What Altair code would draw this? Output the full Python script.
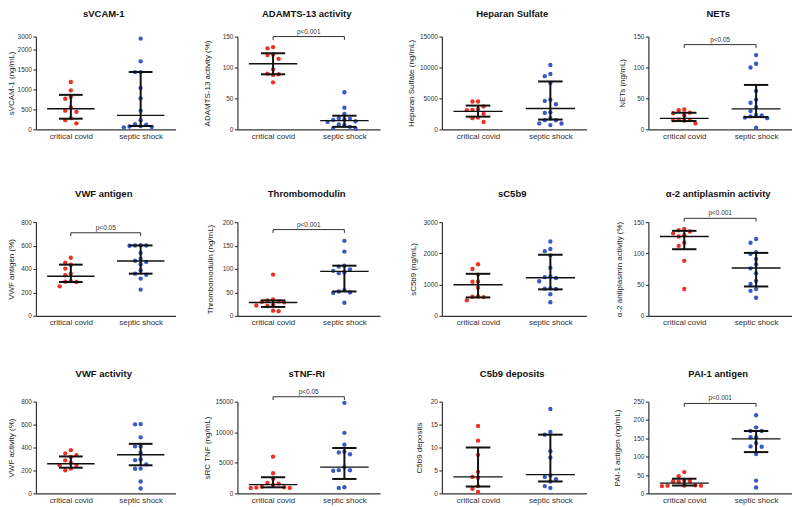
import altair as alt
import pandas as pd

GROUPS = ["critical covid", "septic shock"]
RED = "#EE3124"
BLUE = "#3A58C6"

TITLES = ["sVCAM-1", "ADAMTS-13 activity", "Heparan Sulfate", "NETs",
          "VWF antigen", "Thrombomodulin", "sC5b9", "\u03b1-2 antiplasmin activity",
          "VWF activity", "sTNF-RI", "C5b9 deposits", "PAI-1 antigen"]
YTITLES = ["sVCAM-1 (ng/mL)", "ADAMTS-13 activity (%)", "Heparan Sulfate (ng/mL)", "NETs (ng/mL)",
           "VWF antigen (%)", "Thrombomodulin (ng/mL)", "sC5b9 (ng/mL)", "\u03b1-2 antiplasmin activity (%)",
           "VWF activity (%)", "sRC TNF (ng/mL)", "C5b9 deposits", "PAI-1 actigen (ng/mL)"]

COVID = [
    [1190, 980, 820, 770, 560, 470, 440, 280, 230, 150],
    [133, 131, 121, 120, 114, 97, 90, 89, 88, 76],
    [4500, 4500, 3700, 3300, 3150, 3100, 2500, 1900, 1800, 1200],
    [32, 31, 27, 26, 22.5, 15.5, 15, 14.5, 14, 9.6],
    [496, 454, 437, 403, 360, 346, 296, 292, 289, 252],
    [88, 35, 33, 31, 30, 29, 23, 22, 21, 11, 10],
    [1650, 1500, 1320, 1100, 1090, 900, 620, 610, 600, 500],
    [139, 137, 135, 132, 129, 127, 117, 112, 88, 43],
    [377, 348, 334, 317, 288, 268, 247, 245, 216, 201],
    [6000, 3300, 2400, 1700, 1600, 1400, 1100, 1000, 950, 900, 880],
    [14.7, 11.5, 8.4, 4.7, 3.6, 3.4, 1.6, 1.0, 0.3],
    [58, 47, 36, 34, 33, 32, 22, 21.5, 21, 21, 20],
]
SEPTIC = [
    [2850, 1710, 1440, 1440, 1040, 780, 470, 230, 130, 120, 80, 70, 60, 50],
    [60, 35, 25, 18, 17, 16, 15, 13, 12, 8, 7, 4, 2, 1],
    [10400, 8950, 8600, 7500, 4800, 4600, 4050, 2750, 2650, 1750, 1480, 1460, 950, 940, 680],
    [120, 106, 100, 62, 48, 43, 36, 29.5, 23, 22.5, 21, 19, 18, 2.7],
    [602, 600, 600, 598, 536, 488, 470, 460, 440, 390, 360, 350, 318, 224],
    [160, 137, 107, 105, 99, 96, 93, 91, 55, 52, 50, 49, 28],
    [2380, 2140, 2070, 1935, 1540, 1260, 1240, 1210, 1107, 880, 870, 860, 690, 435],
    [123, 117, 102, 99, 91, 82.5, 76, 68, 56, 51, 43, 40, 29],
    [604, 602, 489, 411, 410, 354, 296, 290, 253, 216, 215, 104, 43],
    [14800, 9900, 7970, 6800, 6700, 6400, 4300, 3800, 3780, 3700, 1000, 900],
    [18.4, 13.4, 12.8, 9.2, 7.8, 3.9, 3.6, 3.1, 2.6, 1.6, 1.2],
    [213, 180, 170, 170, 153, 153, 137, 128, 127, 107, 35, 16],
]
# median, q1, q3 per group
MED_C = [517, 106, 2900, 17.7, 338, 28.6, 993, 127, 259, 1430, 3.6, 28]
Q1_C = [267, 89, 2050, 13.4, 289, 19, 590, 106.6, 224, 990, 1.5, 21.5]
Q3_C = [867, 123, 3840, 26.8, 437, 33, 1345, 136, 322, 2640, 10.0, 40]
MED_S = [350, 14, 3370, 33, 468, 94.8, 1220, 76.6, 337, 4290, 4.1, 148.6]
Q1_S = [83, 4, 1580, 19.8, 360, 52, 848, 47, 245, 2360, 2.6, 112.5]
Q3_S = [1442, 22, 7740, 71.8, 601, 107, 1955, 100.7, 432, 7420, 12.8, 170]

YMAX = [3000, 150, 15000, 150, 800, 200, 3000, 150, 800, 15000, 20, 250]
YTICKS = [
    [0, 500, 1000, 1500, 2000, 3000],
    [0, 50, 100, 150],
    [0, 5000, 10000, 15000],
    [0, 50, 100, 150],
    [0, 200, 400, 600, 800],
    [0, 50, 100, 150, 200],
    [0, 1000, 2000, 3000],
    [0, 50, 100, 150],
    [0, 200, 400, 600, 800],
    [0, 5000, 10000, 15000],
    [0, 5, 10, 15, 20],
    [0, 50, 100, 150, 200, 250],
]
BRACKET = [None, 150, None, 137, 709, 184, None, 156, None, 15800, None, 245]
SIG = ["", "p<0.001", "", "p<0.05", "p<0.05", "p<0.001", "", "p<0.001", "", "p<0.05", "", "p<0.001"]

# layout (style only)
WIDTHS = [140, 143, 145, 144]
HEIGHTS = [93, 94, 92]
TITLE_Y = [-23, -28, -28]
YTITLE_DIST = [24, 30, 30, 26, 24, 27, 28, 29, 24, 30, 22, 31]
BREAK_AT = 2000.0  # sVCAM-1 axis break
BREAK_FACTOR = 1.0 / 3.0


def disp(i, v):
    if i == 0 and v > BREAK_AT:
        return BREAK_AT + (v - BREAK_AT) * BREAK_FACTOR
    return v


def swarm(vals, span, h, w):
    ppv = h / span
    unit = w / 2.0
    slot, diam = 5.6, 5.2
    placed = []
    res = [0.0] * len(vals)
    order = sorted(range(len(vals)), key=lambda k: -vals[k])
    for k in order:
        y = vals[k] * ppv
        s = 0
        for n in range(0, 30):
            s = 0 if n == 0 else ((n + 1) // 2) * (-1 if n % 2 else 1)
            if all(((s - ps) * slot) ** 2 + (y - py) ** 2 >= diam ** 2 for ps, py in placed):
                break
        placed.append((s, y))
        res[k] = s * slot / unit
    return res


def panel(i):
    r, c = divmod(i, 4)
    w, h = WIDTHS[c], HEIGHTS[r]
    span = disp(i, YMAX[i])
    rows = []
    for g, vals in ((1, COVID[i]), (2, SEPTIC[i])):
        dv = [disp(i, v) for v in vals]
        offs = swarm(dv, span, h, w)
        for v, o in zip(dv, offs):
            rows.append({"x": g + o, "y": v, "grp": GROUPS[g - 1]})
    pts = pd.DataFrame(rows)
    stats = pd.DataFrame({
        "gx": [1, 2],
        "med": [MED_C[i], MED_S[i]],
        "q1": [Q1_C[i], Q1_S[i]],
        "q3": [Q3_C[i], Q3_S[i]],
    })
    stats["xl"] = stats["gx"] - 0.34
    stats["xr"] = stats["gx"] + 0.34
    stats["cl"] = stats["gx"] - 0.17
    stats["cr"] = stats["gx"] + 0.17

    xs = alt.Scale(domain=[0.5, 2.5], nice=False, zero=False)
    ys = alt.Scale(domain=[0, span], nice=False, zero=False)
    xaxis = alt.Axis(values=[1, 2], title=None, grid=False, ticks=False,
                     labelExpr="datum.value == 1 ? 'critical covid' : 'septic shock'",
                     labelFontSize=8, labelColor="#333", labelPadding=3,
                     domainColor="#333", domainWidth=1.2)
    tickvals = [disp(i, t) for t in YTICKS[i]]
    ext = YTITLE_DIST[i] - 5
    yargs = dict(values=tickvals, title=YTITLES[i], grid=False, tickSize=3, tickWidth=1.1,
                 tickColor="#333", domainColor="#333", domainWidth=1.2, format="d",
                 labelFontSize=6.5, labelColor="#333", labelPadding=1.5,
                 titleFontSize=8, titleFontWeight="normal", titleColor="#222",
                 titlePadding=1, minExtent=ext, maxExtent=ext)
    if i == 0:
        yargs["labelExpr"] = "datum.value > 2100 ? '3000' : datum.label"
    yaxis = alt.Axis(**yargs)

    def X(f):
        return alt.X(f"{f}:Q", scale=xs, axis=xaxis)

    def Y(f):
        return alt.Y(f"{f}:Q", scale=ys, axis=yaxis)

    layers = []
    layers.append(alt.Chart(pts).mark_circle(size=19, opacity=1).encode(
        x=X("x"), y=Y("y"),
        color=alt.Color("grp:N", scale=alt.Scale(domain=GROUPS, range=[RED, BLUE]), legend=None)))
    sb = alt.Chart(stats)
    layers.append(sb.mark_rule(color="#111", strokeWidth=1.4).encode(x=X("xl"), x2="xr", y=Y("med")))
    layers.append(sb.mark_rule(color="#111", strokeWidth=2).encode(x=X("gx"), y=Y("q1"), y2="q3"))
    layers.append(sb.mark_rule(color="#111", strokeWidth=2).encode(x=X("cl"), x2="cr", y=Y("q1")))
    layers.append(sb.mark_rule(color="#111", strokeWidth=2).encode(x=X("cl"), x2="cr", y=Y("q3")))
    if BRACKET[i] is not None:
        yb = BRACKET[i]
        d = 3.3 * span / h
        br = pd.DataFrame({"bx": [1, 1, 2, 2], "by": [yb - d, yb, yb, yb - d], "o": [0, 1, 2, 3]})
        layers.append(alt.Chart(br).mark_line(color="#333", strokeWidth=1).encode(
            x=X("bx"), y=Y("by"), order="o:Q"))
        bt = pd.DataFrame({"tx": [1.5], "ty": [yb], "lab": [SIG[i]]})
        layers.append(alt.Chart(bt).mark_text(fontSize=6.5, color="#333", baseline="alphabetic", dy=-3).encode(
            x=X("tx"), y=Y("ty"), text="lab:N"))
    tt = pd.DataFrame({"t": [TITLES[i]]})
    layers.append(alt.Chart(tt).mark_text(fontSize=9.5, fontWeight="bold", color="#111",
                                          baseline="middle", align="center").encode(
        text="t:N", x=alt.value(w / 2 - 2), y=alt.value(TITLE_Y[r])))
    return alt.layer(*layers).properties(width=w, height=h)


rows = [alt.hconcat(*[panel(r * 4 + c) for c in range(4)], spacing=62, bounds="flush") for r in range(3)]
inner = alt.vconcat(rows[1], rows[2], spacing=42)
chart = alt.vconcat(rows[0], inner, spacing=49).properties(
    padding={"left": 0, "top": 0, "right": 0, "bottom": 0}
).configure(font="Liberation Sans").configure_view(stroke=None)

chart.save("out.html", embed_options={"renderer": "svg", "actions": False})
